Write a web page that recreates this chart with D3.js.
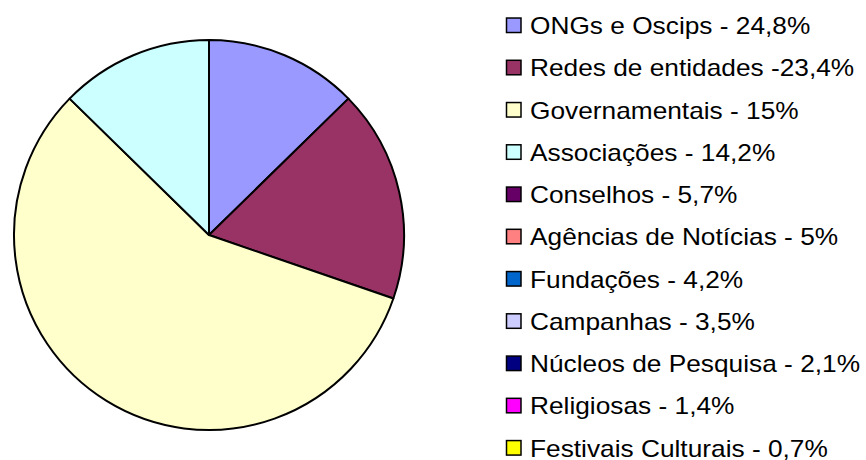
<!DOCTYPE html>
<html>
<head>
<meta charset="utf-8">
<script src="https://cdn.jsdelivr.net/npm/d3@7"></script>
<style>
  body { margin: 0; background: #fff; }
  text { font-family: "Liberation Sans", Arial, sans-serif; }
</style>
</head>
<body>
<div id="chart"></div>
<script>
// categories shown in the legend
var labels = ["ONGs e Oscips - 24,8%", "Redes de entidades -23,4%", "Governamentais - 15%",
    "Associações - 14,2%", "Conselhos - 5,7%", "Agências de Notícias - 5%",
    "Fundações - 4,2%", "Campanhas - 3,5%", "Núcleos de Pesquisa - 2,1%",
    "Religiosas - 1,4%", "Festivais Culturais - 0,7%"];

// slice sizes as drawn in the pie (only four are visible)
var values = [18, 25, 81, 18, 0, 0, 0, 0, 0, 0, 0];

var colors = ["#9999ff", "#993366", "#ffffcc", "#ccffff", "#660066", "#ff8080",
    "#0066cc", "#ccccff", "#000080", "#ff00ff", "#ffff00"];

var width = 866, height = 460;
var radius = 195;

var svg = d3.select("#chart")
    .append("svg")
    .attr("width", width)
    .attr("height", height);

var data = labels.map(function (d, i) {
    return {label: d, value: values[i], color: colors[i]};
});

// pie
var pie = d3.pie()
    .sort(null)
    .value(function (d) { return d.value; });

var arc = d3.arc()
    .innerRadius(0)
    .outerRadius(radius);

var g = svg.append("g")
    .attr("transform", "translate(209,235)");

g.selectAll("path")
    .data(pie(data).filter(function (d) { return d.data.value > 0; }))
    .enter()
    .append("path")
    .attr("d", arc)
    .attr("fill", function (d) { return d.data.color; })
    .attr("stroke", "#000")
    .attr("stroke-width", 2)
    .attr("stroke-linejoin", "round");

// legend
var y = d3.scaleBand()
    .domain(labels)
    .range([4.4, 469.2]);

var legend = svg.append("g")
    .attr("class", "legend");

var row = legend.selectAll("g")
    .data(data)
    .enter()
    .append("g")
    .attr("transform", function (d) {
        return "translate(0," + (y(d.label) + y.bandwidth() / 2) + ")";
    });

row.append("rect")
    .attr("x", 506.5)
    .attr("y", -7.5)
    .attr("width", 14.5)
    .attr("height", 14.5)
    .attr("fill", function (d) { return d.color; })
    .attr("stroke", "#000")
    .attr("stroke-width", 1.5);

// the original text is a bit stretched horizontally
row.append("text")
    .attr("transform", "translate(530,8.5) scale(1.095,1)")
    .style("font-size", "24px")
    .attr("fill", "#000")
    .text(function (d) { return d.label; });
</script>
</body>
</html>
